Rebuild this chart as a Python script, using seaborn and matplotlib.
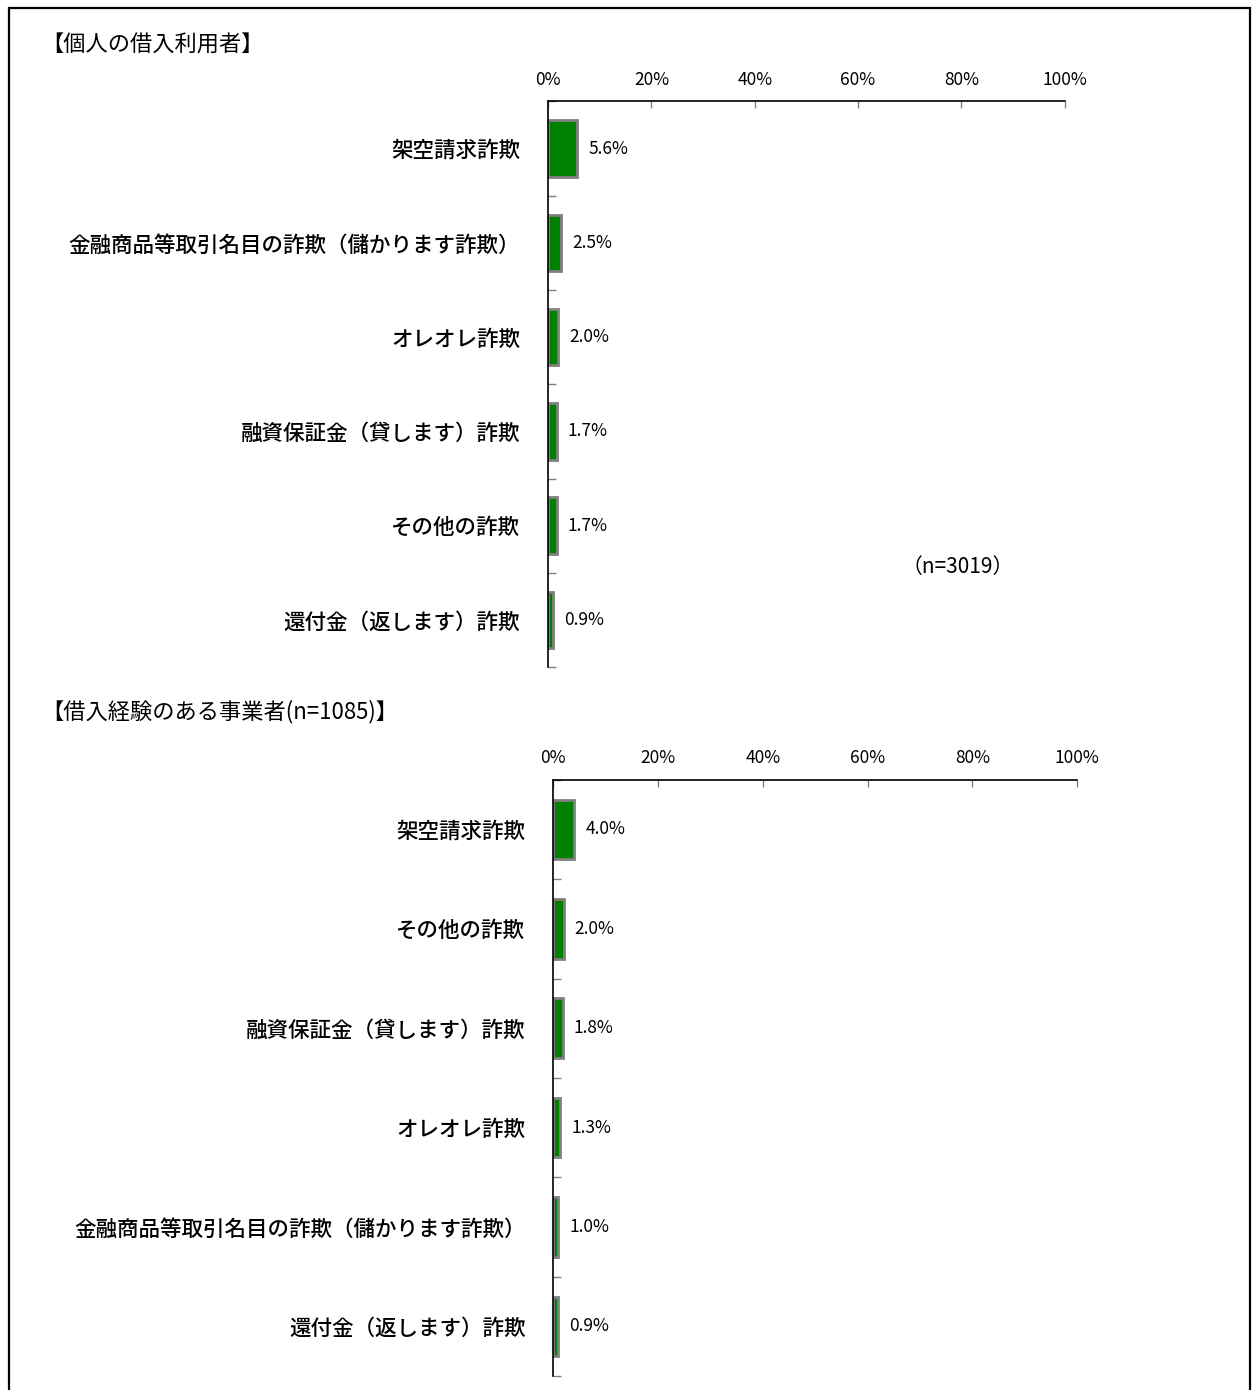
import seaborn as sns
import numpy as np
import pandas as pd
import matplotlib.pyplot as plt
from matplotlib.patches import Rectangle
from matplotlib.ticker import MultipleLocator, PercentFormatter

# data
title_top = "【個人の借入利用者】"
cats_top = ["架空請求詐欺", "金融商品等取引名目の詐欺（儲かります詐欺）", "オレオレ詐欺",
            "融資保証金（貸します）詐欺", "その他の詐欺", "還付金（返します）詐欺"]
vals_top = [5.6, 2.5, 2.0, 1.7, 1.7, 0.9]
note_top = "（n=3019）"

title_bot = "【借入経験のある事業者(n=1085)】"
cats_bot = ["架空請求詐欺", "その他の詐欺", "融資保証金（貸します）詐欺", "オレオレ詐欺",
            "金融商品等取引名目の詐欺（儲かります詐欺）", "還付金（返します）詐欺"]
vals_bot = [4.0, 2.0, 1.8, 1.3, 1.0, 0.9]

xticks = [0, 20, 40, 60, 80, 100]

sns.set_theme(style="white")
plt.rcParams["font.family"] = ["Noto Sans CJK JP", "DejaVu Sans"]

fig = plt.figure(figsize=(12.57, 13.9), dpi=100)

# outer frame
fig.patches.append(Rectangle((0.0072, -0.01), 0.987, 1.004, transform=fig.transFigure,
                             fill=False, edgecolor="black", linewidth=1.6))

ax1 = fig.add_axes([0.436, 0.520, 0.411, 0.407])
ax2 = fig.add_axes([0.440, 0.010, 0.417, 0.429])


def draw(ax, cats, vals, title, title_y):
    df = pd.DataFrame({"cat": cats, "val": vals})
    sns.barplot(data=df, x="val", y="cat", ax=ax, orient="h", color="#008000",
                saturation=1, width=0.6, edgecolor="#808080", linewidth=2)
    for c in ax.containers:
        ax.bar_label(c, labels=[f"{v:.1f}%" for v in vals], padding=8,
                     fontsize=12.5, color="black")
    ax.set_xlim(0, 100)
    ax.set_ylim(len(cats) - 0.5, -0.5)
    ax.set_xlabel("")
    ax.set_ylabel("")
    ax.xaxis.tick_top()
    ax.set_xticks(xticks)
    ax.xaxis.set_major_formatter(PercentFormatter(decimals=0))
    ax.tick_params(axis="x", direction="in", length=5, color="#808080", width=1,
                   labelsize=12.5, labelcolor="black", pad=9, top=True, bottom=False)
    ax.yaxis.set_minor_locator(MultipleLocator(1, offset=0.5))
    ax.tick_params(axis="y", which="major", length=0, labelsize=15.5,
                   labelcolor="black", pad=20)
    for t in ax.get_yticklabels():
        t.set_fontweight("medium")
    ax.tick_params(axis="y", which="minor", direction="in", length=6,
                   color="#808080", width=1, left=True)
    for s in ["right", "bottom"]:
        ax.spines[s].set_visible(False)
    for s in ["top", "left"]:
        ax.spines[s].set_color("black")
        ax.spines[s].set_linewidth(1.2)
    fig.text(0.033, title_y, title, fontsize=16, va="center", ha="left", color="black")


draw(ax1, cats_top, vals_top, title_top, 1 - 45 / 1390)
draw(ax2, cats_bot, vals_bot, title_bot, 1 - 712 / 1390)

ax1.text(0.793, 0.177, note_top, transform=ax1.transAxes, fontsize=15,
         ha="center", va="center", color="black")

fig.savefig("out.png", dpi=100)
